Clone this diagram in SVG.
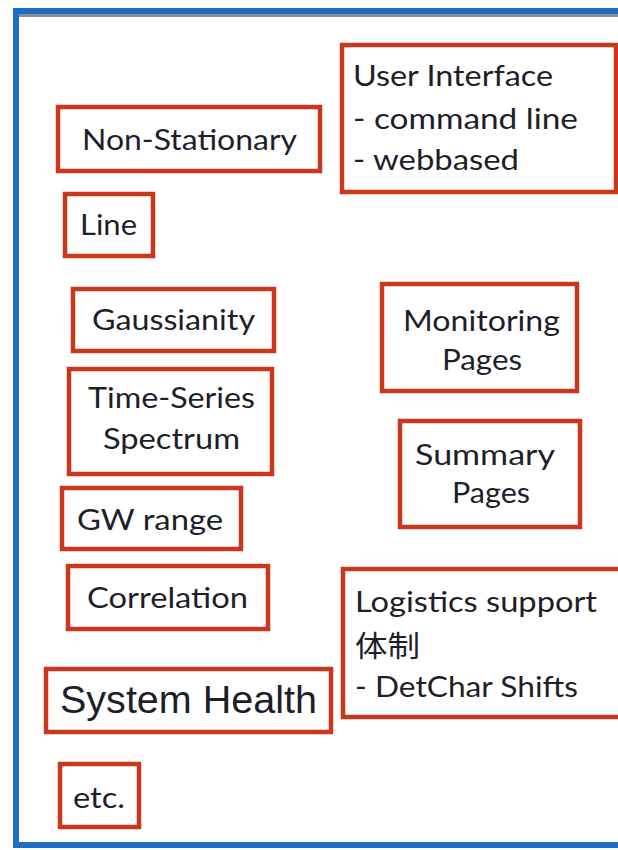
<svg xmlns="http://www.w3.org/2000/svg" width="618" height="850" viewBox="0 0 618 850">
<style>
.box{fill:#fff;stroke:#C9371C;stroke-width:4.5}
.t{font-family:"Lato","Open Sans","Liberation Sans",sans-serif;font-size:29px;fill:#1e1e2a}
.a{font-family:"Liberation Sans",Arial,sans-serif;font-size:38px;fill:#1e1e2a}
.cjk{font-family:"Lato","Noto Sans CJK JP",sans-serif;font-size:29px;fill:#1e1e2a}
</style>
<rect x="0" y="0" width="618" height="850" fill="#fff"/>
<g id="frame">
<rect x="16" y="11" width="640" height="834" fill="none" stroke="#1C6DC6" stroke-width="6"/>
<line x1="19" y1="15.5" x2="618" y2="15.5" stroke="#8a8f96" stroke-width="3"/>
</g>
<g id="connectors"></g>
<g id="non-stationary"><rect class="box" x="58" y="107" width="262" height="64"/><text class="t" x="82" y="150" textLength="215" lengthAdjust="spacingAndGlyphs">Non-Stationary</text></g>
<g id="line"><rect class="box" x="65" y="194" width="88" height="62"/><text class="t" x="80" y="235" textLength="57" lengthAdjust="spacingAndGlyphs">Line</text></g>
<g id="user-interface"><rect class="box" x="342" y="45" width="274" height="147"/>
<text class="t" x="353" y="86" textLength="200" lengthAdjust="spacingAndGlyphs">User Interface</text>
<text class="t" x="353" y="129" textLength="225" lengthAdjust="spacingAndGlyphs">- command line</text>
<text class="t" x="353" y="170" textLength="166" lengthAdjust="spacingAndGlyphs">- webbased</text></g>
<g id="gaussianity"><rect class="box" x="73" y="289" width="201" height="62"/><text class="t" x="92" y="330" textLength="163" lengthAdjust="spacingAndGlyphs">Gaussianity</text></g>
<g id="time-series"><rect class="box" x="69" y="369" width="203" height="105"/>
<text class="t" x="88" y="408" textLength="167" lengthAdjust="spacingAndGlyphs">Time-Series</text>
<text class="t" x="103" y="449" textLength="137" lengthAdjust="spacingAndGlyphs">Spectrum</text></g>
<g id="gw-range"><rect class="box" x="62" y="488" width="179" height="61"/><text class="t" x="77" y="530" textLength="146" lengthAdjust="spacingAndGlyphs">GW range</text></g>
<g id="monitoring"><rect class="box" x="382" y="284" width="195" height="107"/>
<text class="t" x="403" y="331" textLength="157" lengthAdjust="spacingAndGlyphs">Monitoring</text>
<text class="t" x="442" y="370" textLength="80" lengthAdjust="spacingAndGlyphs">Pages</text></g>
<g id="summary"><rect class="box" x="400" y="421" width="180" height="106"/>
<text class="t" x="415" y="465" textLength="140" lengthAdjust="spacingAndGlyphs">Summary</text>
<text class="t" x="452" y="503" textLength="78" lengthAdjust="spacingAndGlyphs">Pages</text></g>
<g id="correlation"><rect class="box" x="68" y="566" width="200" height="63"/><text class="t" x="87" y="608" textLength="161" lengthAdjust="spacingAndGlyphs">Correlation</text></g>
<g id="system-health"><rect class="box" x="46" y="669" width="285" height="63"/><text class="a" x="60" y="713" textLength="257" lengthAdjust="spacingAndGlyphs">System Health</text></g>
<g id="etc"><rect class="box" x="60" y="764" width="79" height="63"/><text class="t" x="73" y="808" textLength="52" lengthAdjust="spacingAndGlyphs">etc.</text></g>
<g id="logistics"><rect class="box" x="343" y="569" width="280" height="148"/>
<text class="t" x="355" y="612" textLength="242" lengthAdjust="spacingAndGlyphs">Logistics support</text>
<text class="cjk" x="355" y="657" textLength="65" lengthAdjust="spacingAndGlyphs">体制</text>
<text class="t" x="355" y="697" textLength="223" lengthAdjust="spacingAndGlyphs">- DetChar Shifts</text></g>
</svg>
